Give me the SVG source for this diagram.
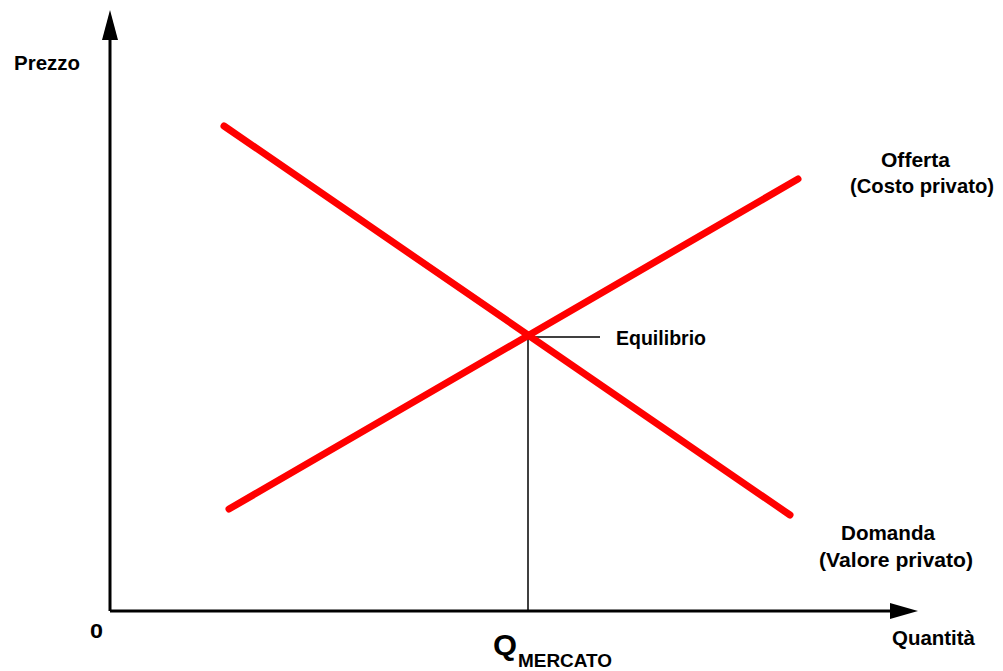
<svg xmlns="http://www.w3.org/2000/svg" width="1003" height="671" viewBox="0 0 1003 671">
<style>
.t{font-family:"Liberation Sans",Arial,sans-serif;font-weight:bold;font-size:21px;fill:#000}
.ax{stroke:#000;stroke-width:3;fill:none}
.thin{stroke:#000;stroke-width:1.5;fill:none}
.curve{stroke:#ff0000;stroke-width:7;stroke-linecap:round;fill:none}
</style>
<rect width="1003" height="671" fill="#fff"/>
<g id="axes">
<line class="ax" x1="110" y1="611" x2="110" y2="36"/>
<polygon points="110,10 102,40 118,40" fill="#000"/>
<line class="ax" x1="110" y1="611" x2="894" y2="611"/>
<polygon points="918,611 890,603 890,619" fill="#000"/>
</g>
<g id="connectors">
<line class="thin" x1="527" y1="337" x2="600" y2="337"/>
<line class="thin" x1="528" y1="337" x2="528" y2="611"/>
</g>
<g id="demand"><line class="curve" x1="224" y1="126" x2="790" y2="515"/></g>
<g id="supply"><line class="curve" x1="229" y1="509" x2="798" y2="179"/></g>
<g id="labels">
<text class="t" x="14" y="70" textLength="66" lengthAdjust="spacingAndGlyphs">Prezzo</text>
<text class="t" x="90" y="638" textLength="13" lengthAdjust="spacingAndGlyphs">0</text>
<text class="t" x="892" y="645" textLength="83" lengthAdjust="spacingAndGlyphs">Quantità</text>
<text class="t" x="616" y="345" textLength="90" lengthAdjust="spacingAndGlyphs">Equilibrio</text>
<text class="t" x="881" y="167" textLength="69" lengthAdjust="spacingAndGlyphs">Offerta</text>
<text class="t" x="850" y="193" textLength="144" lengthAdjust="spacingAndGlyphs">(Costo privato)</text>
<text class="t" x="841" y="540" textLength="94" lengthAdjust="spacingAndGlyphs">Domanda</text>
<text class="t" x="819" y="567" textLength="154" lengthAdjust="spacingAndGlyphs">(Valore privato)</text>
<text class="t" x="493" y="655" style="font-size:30px" textLength="24" lengthAdjust="spacingAndGlyphs">Q</text>
<text class="t" x="518" y="667" style="font-size:19px" textLength="94" lengthAdjust="spacingAndGlyphs">MERCATO</text>
</g>
</svg>
